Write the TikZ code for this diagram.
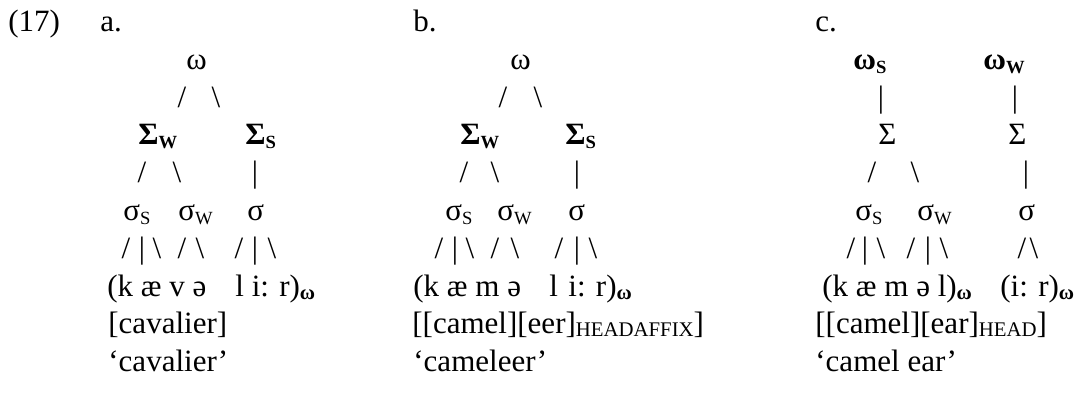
\documentclass[tikz,border=0pt]{standalone}
\usepackage{fontspec}
\setmainfont{Liberation Serif}

% small-cap style subscripts
\newcommand{\lo}[1]{\raisebox{-1.8pt}{\fontsize{9.3pt}{10pt}\selectfont #1}}
\newcommand{\hd}[1]{\raisebox{-1.5pt}{\fontsize{10.4pt}{11pt}\selectfont #1}}

\begin{document}
\begin{tikzpicture}[x=0.5pt, y=-0.5pt,
    every node/.style={inner sep=0pt, font=\fontsize{15.5pt}{18pt}\selectfont},
    lab/.style={anchor=base west}, br/.style={anchor=base}]
    \useasboundingbox (0,0) rectangle (1077,394);

    % (17) a.
    \node [lab] (ex)  at (8,32)    {(17)};
    \node [lab] (a)   at (100,32)  {a.};
    \node [lab] (aw)  at (186,70)  {ω};
    \node [br]  (ab1) at (182,108) {/};    \node [br] (ab2) at (216,108) {\textbackslash};
    \node [lab] (aF1) at (138,145) {\bfseries Σ\lo{W}};
    \node [lab] (aF2) at (245,145) {\bfseries Σ\lo{S}};
    \node [br]  (ab3) at (142,183) {/};    \node [br] (ab4) at (177,183) {\textbackslash};
    \node [br]  (ab5) at (255,183) {|};
    \node [lab] (as1) at (123,221) {σ\lo{S}};
    \node [lab] (as2) at (178,221) {σ\lo{W}};
    \node [lab] (as3) at (247,221) {σ};
    \node [br]  (ab6) at (126,259) {/};    \node [br] (ab7) at (142,259) {|};
    \node [br]  (ab8) at (157,259) {\textbackslash};
    \node [br]  (ab9) at (182,259) {/};    \node [br] (ab10) at (200,259) {\textbackslash};
    \node [br]  (ab11) at (239,259) {/};   \node [br] (ab12) at (255,259) {|};
    \node [br]  (ab13) at (272,259) {\textbackslash};
    \node [lab] (ap1) at (107,297) {(k æ v ə};
    \node [lab] (ap2) at (235,297) {l i: r)\hd{\bfseries ω}};
    \node [lab] (am)  at (108,334) {[cavalier]};
    \node [lab] (ag)  at (108,372) {‘cavalier’};

    % b.
    \node [lab] (b)   at (413,32)  {b.};
    \node [lab] (bw)  at (510,70)  {ω};
    \node [br]  (bb1) at (503,108) {/};    \node [br] (bb2) at (538,108) {\textbackslash};
    \node [lab] (bF1) at (460,145) {\bfseries Σ\lo{W}};
    \node [lab] (bF2) at (565,145) {\bfseries Σ\lo{S}};
    \node [br]  (bb3) at (464,183) {/};    \node [br] (bb4) at (495,183) {\textbackslash};
    \node [br]  (bb5) at (577,183) {|};
    \node [lab] (bs1) at (445,221) {σ\lo{S}};
    \node [lab] (bs2) at (497,221) {σ\lo{W}};
    \node [lab] (bs3) at (568,221) {σ};
    \node [br]  (bb6) at (439,259) {/};    \node [br] (bb7) at (455,259) {|};
    \node [br]  (bb8) at (470,259) {\textbackslash};
    \node [br]  (bb9) at (495,259) {/};    \node [br] (bb10) at (515,259) {\textbackslash};
    \node [br]  (bb11) at (559,259) {/};   \node [br] (bb12) at (577,259) {|};
    \node [br]  (bb13) at (593,259) {\textbackslash};
    \node [lab] (bp1) at (413,297) {(k æ m ə};
    \node [lab] (bp2) at (549,297) {l};
    \node [lab] (bp3) at (568,297) {i: r)\hd{\bfseries ω}};
    \node [lab] (bm)  at (412,334) {[[camel][eer]\hd{HEADAFFIX}]};
    \node [lab] (bg)  at (413,372) {‘cameleer’};

    % c.
    \node [lab] (c)   at (815,32)  {c.};
    \node [lab] (cw1) at (853,70)  {\bfseries ω\lo{S}};
    \node [lab] (cw2) at (983,70)  {\bfseries ω\lo{W}};
    \node [br]  (cb1) at (881,108) {|};    \node [br] (cb2) at (1015,108) {|};
    \node [lab] (cF1) at (878,145) {Σ};
    \node [lab] (cF2) at (1008,145) {Σ};
    \node [br]  (cb3) at (872,183) {/};    \node [br] (cb4) at (915,183) {\textbackslash};
    \node [br]  (cb5) at (1026,183) {|};
    \node [lab] (cs1) at (855,221) {σ\lo{S}};
    \node [lab] (cs2) at (917,221) {σ\lo{W}};
    \node [lab] (cs3) at (1018,221) {σ};
    \node [br]  (cb6) at (851,259) {/};    \node [br] (cb7) at (865,259) {|};
    \node [br]  (cb8) at (881,259) {\textbackslash};
    \node [br]  (cb9) at (911,259) {/};    \node [br] (cb10) at (928,259) {|};
    \node [br]  (cb11) at (944,259) {\textbackslash};
    \node [br]  (cb12) at (1022,259) {/};  \node [br] (cb13) at (1034,259) {\textbackslash};
    \node [lab] (cp1) at (822,297) {(k æ m ə l)\hd{\bfseries ω}};
    \node [lab] (cp2) at (1000,297) {(i: r)\hd{\bfseries ω}};
    \node [lab] (cm)  at (815,334) {[[camel][ear]\hd{HEAD}]};
    \node [lab] (cg)  at (815,372) {‘camel ear’};

\end{tikzpicture}
\end{document}
